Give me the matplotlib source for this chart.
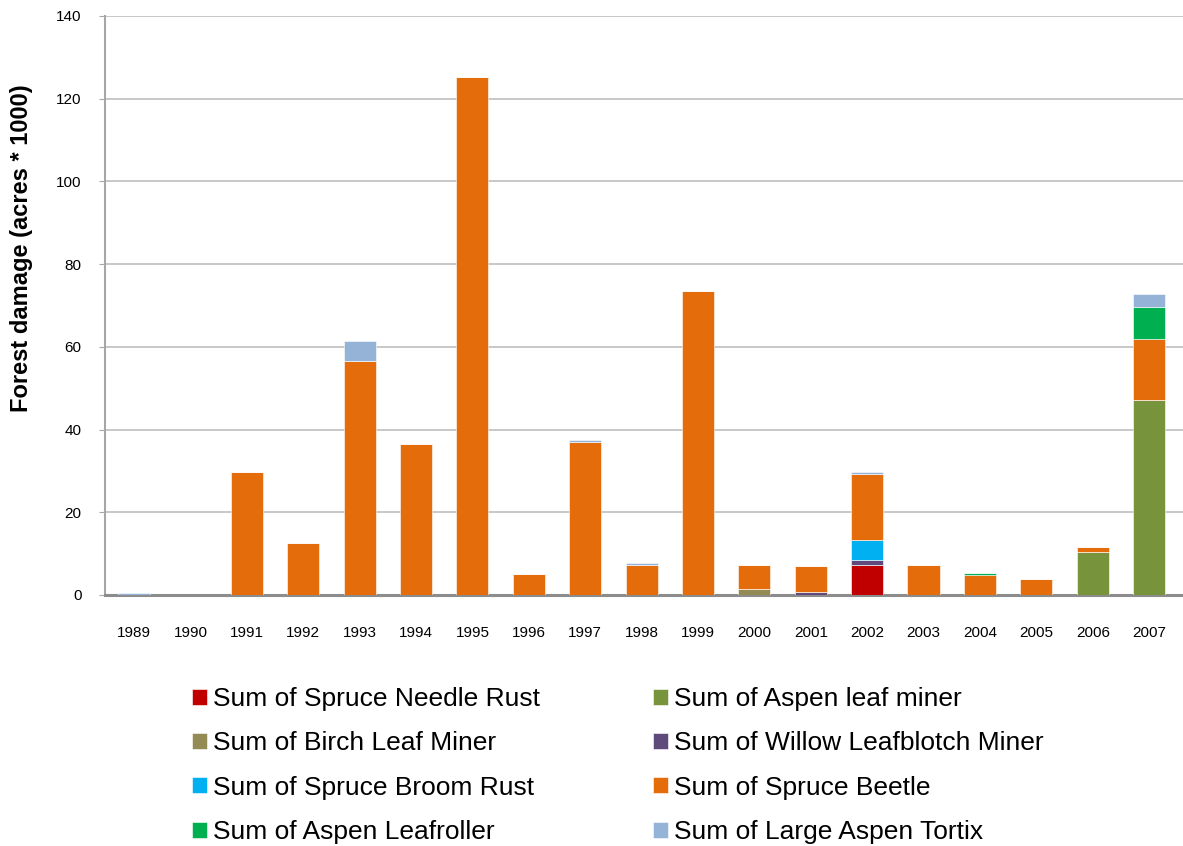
import matplotlib
matplotlib.use("Agg")
import matplotlib.pyplot as plt
import numpy as np

years = ["1989", "1990", "1991", "1992", "1993", "1994", "1995", "1996", "1997", "1998",
         "1999", "2000", "2001", "2002", "2003", "2004", "2005", "2006", "2007"]

spruce_needle_rust = [0, 0, 0, 0, 0, 0, 0, 0, 0, 0, 0, 0, 0, 7.2, 0, 0, 0, 0, 0]
aspen_leaf_miner = [0, 0, 0, 0, 0, 0, 0, 0, 0, 0, 0, 0, 0, 0, 0, 0, 0, 10.3, 47.1]
birch_leaf_miner = [0, 0, 0, 0, 0, 0, 0, 0, 0, 0, 0, 1.5, 0, 0, 0, 0, 0, 0, 0]
willow_leafblotch_miner = [0, 0, 0, 0, 0, 0, 0, 0, 0, 0, 0, 0, 0.8, 1.3, 0, 0, 0, 0, 0]
spruce_broom_rust = [0, 0, 0, 0, 0, 0, 0, 0, 0, 0, 0, 0, 0, 4.9, 0, 0, 0, 0, 0]
spruce_beetle = [0, 0, 29.8, 12.5, 56.6, 36.6, 125.3, 5.0, 37.0, 7.2,
                 73.5, 5.7, 6.3, 15.9, 7.3, 4.8, 3.8, 1.4, 14.7]
aspen_leafroller = [0, 0, 0, 0, 0, 0, 0, 0, 0, 0, 0, 0, 0, 0, 0, 0.6, 0, 0, 7.8]
large_aspen_tortix = [0.4, 0, 0, 0, 4.8, 0, 0, 0, 0.4, 0.5, 0, 0, 0, 0.4, 0, 0, 0, 0, 3.2]

series = [
    ("Sum of Spruce Needle Rust", spruce_needle_rust, "#C00000"),
    ("Sum of Aspen leaf miner", aspen_leaf_miner, "#77933C"),
    ("Sum of Birch Leaf Miner", birch_leaf_miner, "#948A54"),
    ("Sum of Willow Leafblotch Miner", willow_leafblotch_miner, "#604A7B"),
    ("Sum of Spruce Broom Rust", spruce_broom_rust, "#00B0F0"),
    ("Sum of Spruce Beetle", spruce_beetle, "#E46C0A"),
    ("Sum of Aspen Leafroller", aspen_leafroller, "#00B050"),
    ("Sum of Large Aspen Tortix", large_aspen_tortix, "#95B3D7"),
]

plt.rcParams['font.family'] = ['Liberation Sans', 'DejaVu Sans']

W, H = 1183, 846
fig = plt.figure(figsize=(W / 100, H / 100), dpi=100)
ax = fig.add_axes([105 / W, 1 - 595 / H, (W - 105) / W, (595 - 16) / H])

x = np.arange(len(years))
bottom = np.zeros(len(years))
handles = {}
for name, vals, col in series:
    v = np.array(vals, dtype=float)
    b = ax.bar(x, v, 0.57, bottom=bottom, color=col, edgecolor="white",
               linewidth=0.4, label=name, zorder=3)
    handles[name] = b
    bottom += v

ax.set_xlim(-0.514, 18.6)
ax.set_ylim(0, 140)
ax.set_yticks(np.arange(0, 141, 20))
ax.set_xticks(x)
ax.set_xticklabels(years)
ax.yaxis.grid(True, color="#C4C4C4", linewidth=1.3, zorder=0)
ax.set_axisbelow(True)
for s in ["top", "right"]:
    ax.spines[s].set_visible(False)
ax.spines["left"].set_color("#A6A6A6")
ax.spines["left"].set_linewidth(1.5)
ax.spines["bottom"].set_color("#8C8C8C")
ax.spines["bottom"].set_linewidth(2.2)
ax.tick_params(axis="x", length=0, pad=22, labelsize=11)
ax.tick_params(axis="y", length=4, color="#A6A6A6", pad=13, labelsize=11)
ax.set_ylabel("Forest damage (acres * 1000)", fontsize=17, fontweight="bold")
ax.yaxis.set_label_coords((33 - 105) / (W - 105), (595 - 248) / 579)

order = ["Sum of Spruce Needle Rust", "Sum of Birch Leaf Miner", "Sum of Spruce Broom Rust",
         "Sum of Aspen Leafroller", "Sum of Aspen leaf miner", "Sum of Willow Leafblotch Miner",
         "Sum of Spruce Beetle", "Sum of Large Aspen Tortix"]
fig.legend([handles[n] for n in order], order, ncol=2, loc="center",
           bbox_to_anchor=(618 / W, 1 - 765.5 / H), frameon=False, fontsize=19,
           handlelength=0.56, handleheight=0.56, handletextpad=0.22,
           columnspacing=4.3, labelspacing=0.77, borderpad=0)

fig.savefig("out.png", dpi=100)
